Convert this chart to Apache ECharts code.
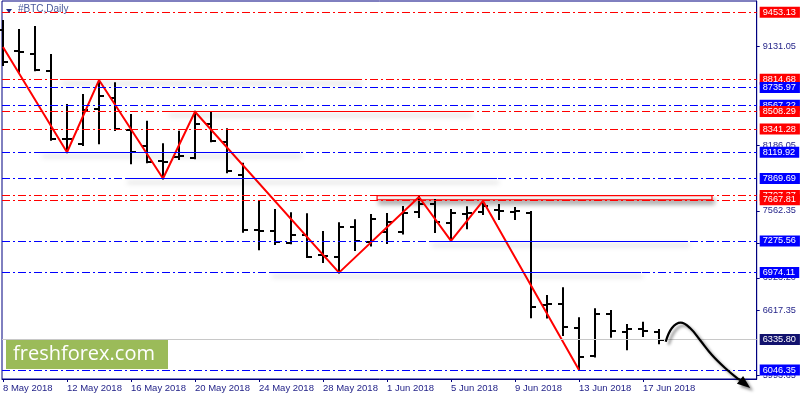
<!DOCTYPE html>
<html><head><meta charset="utf-8">
<script src="https://cdn.jsdelivr.net/npm/echarts@6/dist/echarts.min.js"></script>
<style>html,body{margin:0;padding:0;background:#fff}#c{width:800px;height:400px}</style>
</head><body><div id="c"></div>
<script>
// ---- data ----
const tickDays = [0, 4, 8, 12, 16, 20, 24, 28, 32, 36, 40];
const tickLabels = ['8 May 2018','12 May 2018','16 May 2018','20 May 2018','24 May 2018','28 May 2018','1 Jun 2018','5 Jun 2018','9 Jun 2018','13 Jun 2018','17 Jun 2018'];
const priceTicks = [9131.05, 8186.05, 7562.35, 7250.20, 6923.20, 6617.35, 5993.65];

const open  = [9285,9080,9059,8897,8242,8196,8532,8640,8332,8183,8037,8078,8068,8387,8218,7899,7375,7367,7259,7335,7137,7127,7413,7266,7361,7358,7551,7625,7446,7532,7551,7570,7555,7539,6670,6675,6444,6180,6580,6406,6434,6406];
const high  = [9370,9285,9313,9047,8570,8666,8808,8777,8475,8411,8196,8316,8506,8500,8339,8011,7656,7570,7539,7529,7361,7444,7472,7523,7532,7599,7694,7666,7570,7596,7656,7618,7589,7551,6751,6825,6539,6625,6608,6475,6497,6427];
const low   = [8951,8887,8901,8240,8120,8189,8206,8332,8015,8025,7870,8056,8063,8225,7930,7364,7196,7246,7253,7123,7075,6974,7189,7232,7256,7347,7504,7361,7276,7396,7532,7485,7485,6548,6547,6380,6046,6175,6364,6244,6370,6301];
const close = [8983,9075,8906,8246,8251,8526,8659,8339,8120,8030,8027,8085,8387,8232,7937,7383,7372,7266,7335,7126,7134,7411,7272,7480,7456,7539,7627,7456,7545,7546,7604,7561,7560,6649,6675,6459,6167,6580,6421,6434,6421,6335.80];

const zigzag = [[0,9123],[4,8120],[6,8808],[10,7870],[12,8506],[21,6974],[26,7694],[28,7276],[30,7656],[36,6046]];

const redLevels  = [9453.13, 8814.68, 8508.29, 8341.28, 7707.37, 7667.81];
const blueLevels = [8735.97, 8567.22, 8119.92, 7869.69, 7275.56, 6974.11, 6046.35];
const currentPrice = 6335.80;

// solid trend segments: [price, fromDay, toDay]
const redSegments  = [[8814.68, 3.56, 22.3], [8508.29, 10.25, 29.19]];
const blueSegments = [[8119.92, 2.31, 18.56], [7869.69, 7.63, 30.88], [7275.56, 26.69, 42.81], [6974.11, 16.69, 39.88], [6046.35, 32.31, 47.2]];
const band = [23.38, 44.31, 7707.37, 7667.81];

const arrowPath = [[41.42,6316],[41.81,6446],[42.36,6497],[42.94,6446],[43.56,6332],[44.31,6189],[45.13,6065],[45.94,5961],[46.7,5876]];

// ---- build ----
const RED = '#ff0000', BLUE = '#0000ff', NAVY = '#000080', TXT = '#1e1e86';
const dashDot = [8, 3, 2, 3];
const bars = open.map((o, i) => [i, o, high[i], low[i], close[i]]);

const levelItems = redLevels.map(v => [v, RED]).concat(blueLevels.map(v => [v, BLUE]))
  .sort((a, b) => b[0] - a[0])
  .map(([v, c]) => ({ yAxis: v, lineStyle: { color: c, type: dashDot, width: 1 }, label: { backgroundColor: c } }));
levelItems.unshift({ yAxis: currentPrice, lineStyle: { color: '#c8c8c8', type: 'solid', width: 1 }, label: { backgroundColor: '#12126e' } });

const shadow = { shadowColor: 'rgba(0,0,0,0.35)', shadowBlur: 5, shadowOffsetX: 2, shadowOffsetY: 4 };
const segItems = redSegments.map(s => [s, RED]).concat(blueSegments.map(s => [s, BLUE])).map(([s, c]) => [
  { coord: [s[1], s[0]], lineStyle: Object.assign({ color: c, type: 'solid', width: 1 }, shadow) },
  { coord: [s[2], s[0]] }
]);

const chart = echarts.init(document.getElementById('c'));
chart.setOption({
  animation: false,
  grid: { left: 2, right: 43.3, top: 1, bottom: 21, show: true, borderColor: NAVY, borderWidth: 1 },
  xAxis: {
    type: 'value', min: -0.0625, max: 47.106,
    splitLine: { show: false },
    axisLine: { show: true, onZero: false, lineStyle: { color: NAVY } },
    axisTick: { show: true, customValues: tickDays, length: 3, lineStyle: { color: NAVY } },
    axisLabel: { customValues: tickDays, formatter: v => tickLabels[tickDays.indexOf(Math.round(v))] || '',
      align: 'left', margin: 4, color: TXT, fontFamily: 'Liberation Sans', fontSize: 9.5 }
  },
  yAxis: {
    type: 'value', position: 'right', min: 5960.7, max: 9560.7, scale: true,
    splitLine: { show: false },
    axisLine: { show: true, onZero: false, lineStyle: { color: NAVY } },
    axisTick: { show: true, customValues: priceTicks, length: 3, lineStyle: { color: NAVY } },
    axisLabel: { customValues: priceTicks, formatter: v => Number(v).toFixed(2), margin: 6,
      color: TXT, fontFamily: 'Liberation Sans', fontSize: 9.2 }
  },
  series: [
    { type: 'line', data: [], z: 1, silent: true,
      markArea: { silent: true, data: [[
        { coord: [band[0], band[2]], itemStyle: Object.assign({ color: '#fff', borderColor: RED, borderWidth: 1.2 }, shadow) },
        { coord: [band[1], band[3]] }
      ]] }
    },
    { type: 'line', data: [], z: 2, silent: true,
      markLine: { silent: true, symbol: 'none', animation: false,
        label: { show: true, position: 'end', distance: 3, formatter: p => Number(p.value).toFixed(2),
          color: '#fff', fontFamily: 'Liberation Sans', fontSize: 9.2, lineHeight: 11, padding: [0, 4, 0, 3] },
        data: levelItems }
    },
    { type: 'line', data: [], z: 2, silent: true,
      markLine: { silent: true, symbol: 'none', animation: false, label: { show: false }, data: segItems }
    },
    { type: 'custom', z: 3, silent: true, data: bars, encode: { x: 0, y: [1, 2, 3, 4] },
      renderItem: (params, api) => {
        const d = api.value(0);
        const h = api.coord([d, api.value(2)]), l = api.coord([d, api.value(3)]);
        const o = api.coord([d, api.value(1)]), c = api.coord([d, api.value(4)]);
        const x = Math.round(h[0]);
        const st = { stroke: '#000', lineWidth: 2 };
        return { type: 'group', children: [
          { type: 'line', shape: { x1: x, y1: h[1] - 1, x2: x, y2: l[1] + 1 }, style: st },
          { type: 'line', shape: { x1: x - 5, y1: Math.round(o[1]), x2: x, y2: Math.round(o[1]) }, style: st },
          { type: 'line', shape: { x1: x, y1: Math.round(c[1]), x2: x + 5, y2: Math.round(c[1]) }, style: st }
        ] };
      }
    },
    { type: 'line', z: 4, silent: true, data: zigzag, symbol: 'none', lineStyle: { color: RED, width: 2 } },
    { type: 'custom', z: 5, silent: true, clip: false, data: [arrowPath[0]],
      renderItem: (params, api) => {
        const pts = arrowPath.map(p => api.coord(p));
        const n = pts.length;
        const tip = pts[n - 1], prev = pts[n - 3];
        const ang = Math.atan2(tip[1] - prev[1], tip[0] - prev[0]);
        const L = 13, W = 5;
        const bx = tip[0] - L * Math.cos(ang), by = tip[1] - L * Math.sin(ang);
        const head = [tip, [bx + W * Math.sin(ang), by - W * Math.cos(ang)], [bx - W * Math.sin(ang), by + W * Math.cos(ang)]];
        const sh = { shadowColor: 'rgba(0,0,0,0.45)', shadowBlur: 3, shadowOffsetX: 3, shadowOffsetY: 3 };
        return { type: 'group', children: [
          { type: 'polyline', shape: { points: pts.slice(0, n - 1).concat([[bx, by]]), smooth: 0.4 },
            style: Object.assign({ stroke: '#000', lineWidth: 2.2, fill: null }, sh) },
          { type: 'polygon', shape: { points: head }, style: Object.assign({ fill: '#000' }, sh) }
        ] };
      }
    }
  ],
  graphic: [
    { type: 'polygon', shape: { points: [[6, 9], [12, 9], [9, 13]] }, style: { fill: '#1c2a80' }, z: 10 },
    { type: 'text', left: 18, top: 4, style: { text: '#BTC,Daily', fill: '#4a5a9c', font: '10px "Liberation Sans"' }, z: 10 },
    { type: 'rect', shape: { x: 6, y: 340, width: 162, height: 29 }, style: { fill: '#9bbb59' }, z: 10 },
    { type: 'text', x: 13, y: 354.5, style: { text: 'freshforex.com', fill: '#fff', font: '20px "Open Sans"', textVerticalAlign: 'middle' }, z: 11 }
  ]
});
</script>
</body></html>
